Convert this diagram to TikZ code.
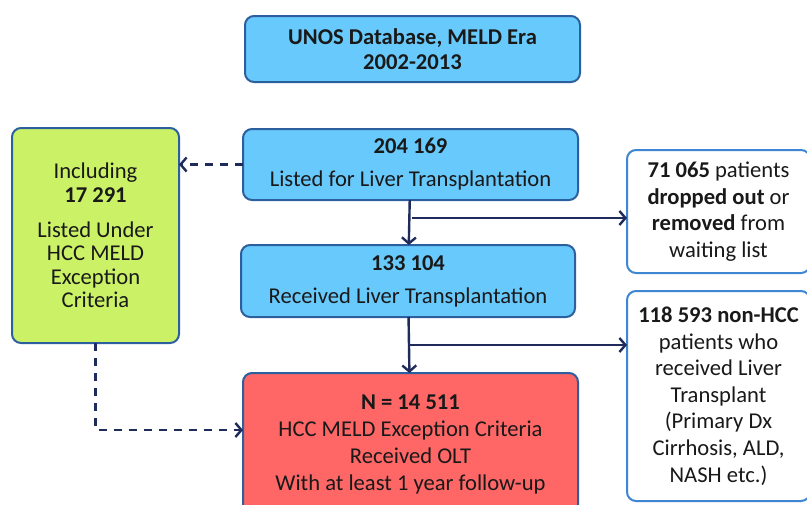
\documentclass[tikz,border=0pt]{standalone}
\usepackage{fontspec}
\setmainfont{Carlito}
\usepackage{xcolor}
\usetikzlibrary{arrows.meta}
\definecolor{boxblue}{HTML}{68CAFC}
\definecolor{edgeblue}{HTML}{2C5F9E}
\definecolor{lightedge}{HTML}{3F86D2}
\definecolor{boxgreen}{HTML}{CBF266}
\definecolor{boxred}{HTML}{FF6666}
\definecolor{navy}{HTML}{1F2B5A}

\begin{document}
\begin{tikzpicture}[x=0.5pt, y=-0.5pt,
      box/.style={draw=edgeblue, line width=1pt, rounded corners=4.5pt, align=center, inner sep=0pt, outer sep=0pt,
        font=\fontsize{11.3}{13.3}\selectfont, text=black!90},
      bluebox/.style={box, fill=boxblue},
      sidebox/.style={box, draw=lightedge, fill=white, minimum width=91.5pt},
      arrow/.style={-{Straight Barb[length=3pt, width=7pt]}, draw=navy, line width=1.2pt},
      dasharrow/.style={arrow, dash pattern=on 4pt off 3.5pt}]
    \useasboundingbox (0,0) rectangle (807,504);
    \node[bluebox, minimum width=167.5pt, minimum height=33pt] (unos) at (412.5, 49) {\textbf{UNOS Database, MELD Era}\\[-0.8pt]\textbf{2002-2013}};
    \node[bluebox, minimum width=167.5pt, minimum height=35.5pt] (listed) at (410.5, 164.5) {\textbf{204 169}\\[3.2pt]Listed for Liver Transplantation};
    \node[bluebox, minimum width=167pt, minimum height=36pt] (received) at (408, 281) {\textbf{133 104}\\[3.2pt]Received Liver Transplantation};
    \node[box, fill=boxred, minimum width=167.5pt, minimum height=71pt, font=\fontsize{11.3}{13.5}\selectfont] (result) at (410.5, 444) {\textbf{N = 14 511}\\HCC MELD Exception Criteria\\Received OLT\\With at least 1 year follow-up};
    \node[box, fill=boxgreen, minimum width=83.5pt, minimum height=107.5pt, font=\fontsize{11.3}{11.8}\selectfont] (incl) at (95.5, 235.5) {Including\\\textbf{17 291}\\[5.7pt]Listed Under\\HCC MELD\\Exception\\Criteria};
    \node[sidebox, minimum height=61.5pt] (dropped) at (718.5, 211.5) {\textbf{71 065} patients\\\textbf{dropped out} or\\\textbf{removed} from\\waiting list};
    \node[sidebox, minimum height=105pt] (nonhcc) at (718.5, 396) {\textbf{118 593 non-HCC}\\patients who\\received Liver\\Transplant\\(Primary Dx\\Cirrhosis, ALD,\\NASH etc.)};
    \coordinate (split1) at (412, 218);
    \coordinate (split2) at (408, 345);
    \draw[arrow] (listed) -- (received);
    \draw[arrow] (split1) -- (split1 -| dropped.west);
    \draw[arrow] (received) -- (result);
    \draw[arrow] (split2) -- (split2 -| nonhcc.west);
    \draw[dasharrow] (listed.west) -- (listed.west -| incl.east);
    \draw[dasharrow] (incl.south) |- ([yshift=7pt]result.west);
  \end{tikzpicture}
\end{document}
